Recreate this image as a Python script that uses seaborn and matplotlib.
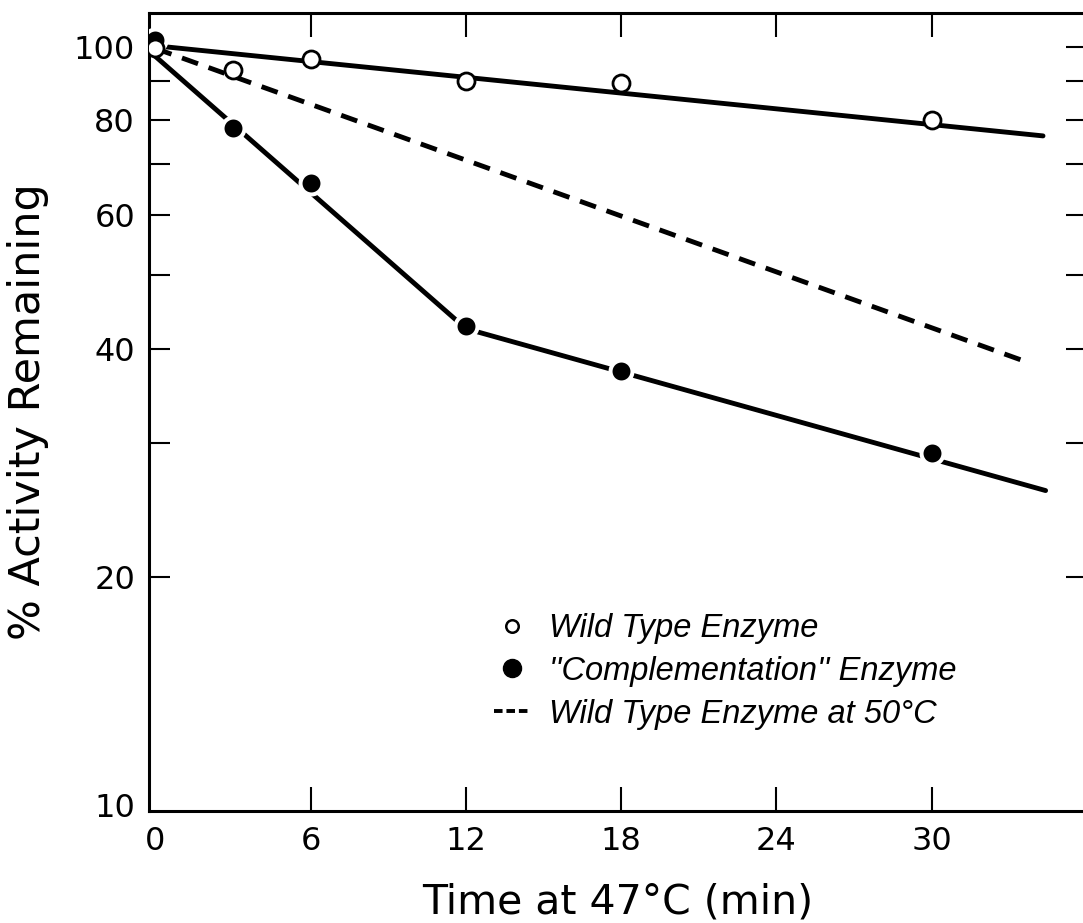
import numpy as np
import pandas as pd
import matplotlib
matplotlib.use("Agg")
import matplotlib.pyplot as plt
from matplotlib.lines import Line2D
from matplotlib.ticker import FixedLocator, FixedFormatter, NullLocator
import seaborn as sns

# ---- data ----
time_pts = [0, 3, 6, 12, 18, 30]
wild_type = [99.6, 93.2, 96.3, 90.1, 89.5, 80.1]
complementation = [102, 78.1, 66.1, 42.8, 37.4, 29.1]

wt_fit_t = [0, 34.3]
wt_fit = [100.3, 76.3]
wt50_fit_t = [0, 33.5]
wt50_fit = [99.5, 38.6]
comp_fit_t = [0, 12, 34.4]
comp_fit = [97.1, 42.5, 26.0]

x_ticks = [0, 6, 12, 18, 24, 30]
y_ticks = [10, 20, 30, 40, 50, 60, 70, 80, 90, 100]
y_labels = ["10", "20", "", "40", "", "60", "", "80", "", "100"]

legend_labels = ["Wild Type Enzyme", "''Complementation'' Enzyme",
                 "Wild Type Enzyme at 50\u00b0C"]

sns.set_style("ticks")
plt.rcParams["font.family"] = ["DejaVu Sans"]
plt.rcParams["text.color"] = "black"
plt.rcParams["axes.labelcolor"] = "black"

W, H = 1083, 923
fig = plt.figure(figsize=(W / 100, H / 100), dpi=100)
left, right, top, bottom = 149, 1087, 13, 811
ax = fig.add_axes([left / W, 1 - bottom / H, (right - left) / W, (bottom - top) / H])

ax.set_yscale("log")
ax.set_xlim(-0.25, 36.0)
ax.set_ylim(9.83, 110.8)

lw = 3.5
sns.lineplot(x=wt_fit_t, y=wt_fit, ax=ax, color="black", lw=lw, zorder=2)
sns.lineplot(x=wt50_fit_t, y=wt50_fit, ax=ax, color="black", lw=lw, zorder=2,
             linestyle=(0, (3.5, 2.3)))
sns.lineplot(x=comp_fit_t, y=comp_fit, ax=ax, color="black", lw=lw, zorder=2)

sns.scatterplot(x=time_pts, y=complementation, ax=ax, color="black", s=250,
                edgecolor="white", linewidth=2.9, zorder=3)
sns.scatterplot(x=time_pts, y=wild_type, ax=ax, color="white", s=150,
                edgecolor="black", linewidth=2.0, zorder=4)

# ticks
ax.xaxis.set_major_locator(FixedLocator(x_ticks))
ax.set_xticklabels([str(t) for t in x_ticks])
ax.yaxis.set_major_locator(FixedLocator(y_ticks))
ax.yaxis.set_major_formatter(FixedFormatter(y_labels))
ax.yaxis.set_minor_locator(NullLocator())
ax.xaxis.set_minor_locator(NullLocator())

ax.tick_params(axis="x", which="major", direction="in", length=17, width=1.5,
               labelsize=23, pad=11, top=True, bottom=True, colors="black")
ax.tick_params(axis="y", which="major", direction="in", length=15, width=1.5,
               labelsize=23, pad=10, left=True, right=True, colors="black")
ax.yaxis.get_major_ticks()[0].tick1line.set_visible(False)
ax.yaxis.get_major_ticks()[0].tick2line.set_visible(False)
ax.xaxis.get_major_ticks()[0].tick1line.set_visible(False)
ax.xaxis.get_major_ticks()[0].tick2line.set_visible(False)

for sp in ax.spines.values():
    sp.set_linewidth(2.2)
    sp.set_color("black")

ax.set_xlabel("Time at 47\u00b0C (min)", fontsize=29.5, labelpad=18)
ax.set_ylabel("% Activity Remaining", fontsize=31, labelpad=18)

handles = [
    Line2D([], [], ls="none", marker="o", markersize=9, markerfacecolor="white",
           markeredgecolor="black", markeredgewidth=1.8),
    Line2D([], [], ls="none", marker="o", markersize=13, markerfacecolor="black",
           markeredgecolor="black"),
    Line2D([], [], color="black", lw=2.8, ls=(0, (2.2, 1.0))),
]
leg = ax.legend(handles, legend_labels, loc="upper left",
                bbox_to_anchor=((494 - left) / (right - left), (811 - 613) / (bottom - top)),
                frameon=False, borderpad=0, borderaxespad=0, handlelength=1.1,
                handletextpad=0.6, labelspacing=0.36,
                prop={"family": "Liberation Sans", "style": "italic", "size": 23.5})

fig.savefig("out.png", dpi=100)
